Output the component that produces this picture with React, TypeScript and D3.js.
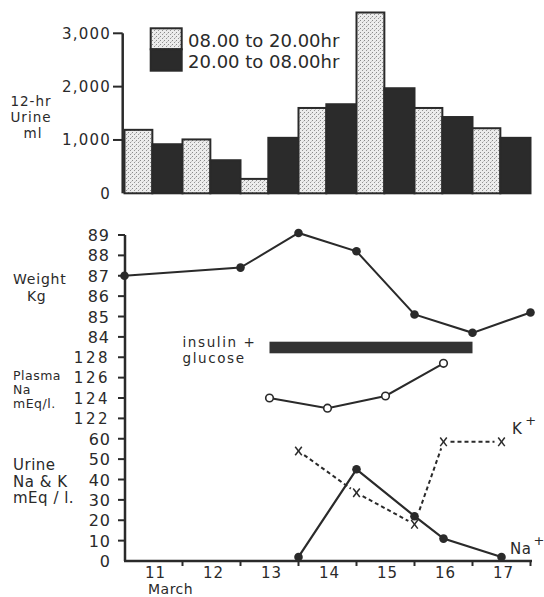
import React from "react";
import * as d3 from "d3";

// ---- Data ----
const days = ["11", "12", "13", "14", "15", "16", "17"];
const dayUrine = [1190, 1010, 270, 1600, 3390, 1600, 1220]; // 08.00 to 20.00 hr
const nightUrine = [920, 620, 1040, 1670, 1970, 1430, 1040]; // 20.00 to 08.00 hr
const urineVolTicks = [0, 1000, 2000, 3000];
const urineVolLabels = ["0", "1,000", "2,000", "3,000"];

const weightT = [0, 2, 3, 4, 5, 6, 7];
const weight = [87.0, 87.4, 89.1, 88.2, 85.1, 84.2, 85.2];
const weightTicks = [84, 85, 86, 87, 88, 89];

const plasmaT = [2.5, 3.5, 4.5, 5.5];
const plasmaNa = [124.0, 123.0, 124.2, 127.4];
const plasmaTicks = [122, 124, 126, 128];

const insulinSpan = [2.5, 6.0];

const urineT = [3, 4, 5, 5.5, 6.5];
const urineNa = [2, 45, 22, 11, 2];
const urineK = [54, 33.5, 18, 58.5, 58.5];
const urineTicks = [0, 10, 20, 30, 40, 50, 60];

const FONT = "'DejaVu Sans', sans-serif";
const INK = "#2a2a2a";

export default function App() {
  const x = d3.scaleLinear().domain([0, 7]).range([124.5, 530.5]);
  const yVol = d3.scaleLinear().domain([0, 3000]).range([193.3, 33.3]);
  const yW = d3.scaleLinear().domain([84, 89]).range([336.9, 235]);
  const yP = d3.scaleLinear().domain([122, 128]).range([418.4, 357.25]);
  const yU = d3.scaleLinear().domain([0, 60]).range([561, 438.75]);

  const split = 0.48;

  const wLine = d3.line<number>().x((_, i) => x(weightT[i])).y((d) => yW(d));
  const pLine = d3.line<number>().x((_, i) => x(plasmaT[i])).y((d) => yP(d));
  const naLine = d3.line<number>().x((_, i) => x(urineT[i])).y((d) => yU(d));

  // K dashed segments, shortened near markers
  const kSegs: { x1: number; y1: number; x2: number; y2: number }[] = [];
  for (let i = 0; i < urineK.length - 1; i++) {
    const ax = x(urineT[i]), ay = yU(urineK[i]);
    const bx = x(urineT[i + 1]), by = yU(urineK[i + 1]);
    const dx = bx - ax, dy = by - ay;
    const len = Math.hypot(dx, dy);
    const ux = dx / len, uy = dy / len;
    const s0 = i === 2 ? 15 : 7;
    const s1 = 7;
    kSegs.push({ x1: ax + ux * s0, y1: ay + uy * s0, x2: bx - ux * s1, y2: by - uy * s1 });
  }

  const tickFont = { fontFamily: FONT, fontSize: 16, fill: INK, letterSpacing: 1 } as const;
  const labelFont = { fontFamily: FONT, fontSize: 15, fill: INK, letterSpacing: 0.5 } as const;

  return (
    <svg
      width={544}
      height={597}
      style={{ position: "absolute", left: 0, top: 0, background: "#fff" }}
    >
      <defs>
        <pattern id="stip" width={4} height={4} patternUnits="userSpaceOnUse">
          <rect width={4} height={4} fill="#ececec" />
          <rect x={0} y={0} width={1} height={1} fill="#8a8a8a" />
          <rect x={2} y={2} width={1} height={1} fill="#949494" />
          <rect x={3} y={1} width={1} height={1} fill="#c8c8c8" />
        </pattern>
      </defs>

      {/* ---------- Top: 12-hr urine bars ---------- */}
      {days.map((d, i) => (
        <g key={"bar" + d}>
          <rect
            x={x(i)}
            y={yVol(dayUrine[i])}
            width={x(i + split) - x(i)}
            height={yVol(0) - yVol(dayUrine[i])}
            fill="url(#stip)"
            stroke={INK}
            strokeWidth={2}
          />
          <rect
            x={x(i + split)}
            y={yVol(nightUrine[i])}
            width={x(i + 1) - x(i + split)}
            height={yVol(0) - yVol(nightUrine[i])}
            fill="#2b2b2b"
            stroke={INK}
            strokeWidth={2}
          />
        </g>
      ))}
      <line x1={122.7} x2={122.7} y1={yVol(3000)} y2={yVol(0)} stroke={INK} strokeWidth={2.5} />
      {urineVolTicks.map((t, i) => (
        <g key={"vt" + t}>
          {t > 0 && (
            <line x1={113} x2={122.7} y1={yVol(t)} y2={yVol(t)} stroke={INK} strokeWidth={2} />
          )}
          <text
            x={111}
            y={yVol(t) + 5.5}
            textAnchor="end"
            {...tickFont}
            fontSize={15}
            letterSpacing={1.2}
          >
            {urineVolLabels[i]}
          </text>
        </g>
      ))}
      <text x={31} y={105.5} textAnchor="middle" {...labelFont} fontSize={13.5} letterSpacing={1}>12-hr</text>
      <text x={31} y={121.5} textAnchor="middle" {...labelFont} fontSize={13.5} letterSpacing={1}>Urine</text>
      <text x={33} y={137.5} textAnchor="middle" {...labelFont} fontSize={13.5} letterSpacing={1}>ml</text>

      {/* legend */}
      <rect x={150.7} y={28.3} width={31} height={21} fill="url(#stip)" stroke={INK} strokeWidth={2} />
      <rect x={150.7} y={49.3} width={31} height={21.4} fill="#2b2b2b" stroke={INK} strokeWidth={2} />
      <text x={188} y={46.5} fontFamily={FONT} fontSize={18} fill={INK}>08.00 to 20.00hr</text>
      <text x={188} y={68} fontFamily={FONT} fontSize={18} fill={INK}>20.00 to 08.00hr</text>

      {/* ---------- Bottom panel axes ---------- */}
      <line x1={125} x2={125} y1={yW(89)} y2={yU(0)} stroke={INK} strokeWidth={2.5} />
      <line x1={124} x2={532} y1={yU(0)} y2={yU(0)} stroke={INK} strokeWidth={2.5} />
      {weightTicks.map((t) => (
        <g key={"wt" + t}>
          <line x1={118} x2={125} y1={yW(t)} y2={yW(t)} stroke={INK} strokeWidth={2} />
          <text x={110} y={yW(t) + 6} textAnchor="end" {...tickFont}>{t}</text>
        </g>
      ))}
      {plasmaTicks.map((t) => (
        <g key={"pt" + t}>
          <line x1={118} x2={125} y1={yP(t)} y2={yP(t)} stroke={INK} strokeWidth={2} />
          <text x={110} y={yP(t) + 5.5} textAnchor="end" {...tickFont} fontSize={15} letterSpacing={2.5}>{t}</text>
        </g>
      ))}
      {urineTicks.map((t) => (
        <g key={"ut" + t}>
          {t > 0 && <line x1={118} x2={125} y1={yU(t)} y2={yU(t)} stroke={INK} strokeWidth={2} />}
          <text x={111} y={yU(t) + 6} textAnchor="end" {...tickFont}>{t}</text>
        </g>
      ))}
      {days.map((d, i) => (
        <g key={"xd" + d}>
          <line x1={x(i + 1)} x2={x(i + 1)} y1={yU(0)} y2={yU(0) + 5} stroke={INK} strokeWidth={2} />
          <text x={x(i + 0.5) + 2} y={577.5} textAnchor="middle" {...tickFont} fontSize={15}>{d}</text>
        </g>
      ))}
      <text x={148} y={594} {...labelFont} fontSize={14}>March</text>

      {/* left labels */}
      <text x={13} y={284} {...labelFont} fontSize={14} letterSpacing={0.8}>Weight</text>
      <text x={27} y={300.5} {...labelFont} fontSize={14}>Kg</text>
      <text x={13} y={379.5} {...labelFont} fontSize={12.5}>Plasma</text>
      <text x={13} y={393.5} {...labelFont} fontSize={12.5}>Na</text>
      <text x={13} y={407.5} {...labelFont} fontSize={12.5}>mEq/l.</text>
      <text x={13} y={470} {...labelFont}>Urine</text>
      <text x={13} y={486.5} {...labelFont}>Na &amp; K</text>
      <text x={13} y={503} {...labelFont}>mEq / l.</text>

      {/* weight */}
      <path d={wLine(weight) || ""} fill="none" stroke={INK} strokeWidth={2} />
      {weight.map((w, i) => (
        <circle key={"w" + i} cx={x(weightT[i])} cy={yW(w)} r={4.3} fill={INK} />
      ))}

      {/* insulin + glucose */}
      <rect
        x={x(insulinSpan[0])}
        y={341.7}
        width={x(insulinSpan[1]) - x(insulinSpan[0])}
        height={11.6}
        fill="#333"
      />
      <text x={182.5} y={346.5} {...labelFont} fontSize={13.5} letterSpacing={1.6}>insulin +</text>
      <text x={182.5} y={363} {...labelFont} fontSize={13.5} letterSpacing={1.6}>glucose</text>

      {/* plasma Na */}
      <path d={pLine(plasmaNa) || ""} fill="none" stroke={INK} strokeWidth={2} />
      {plasmaNa.map((p, i) => (
        <circle key={"p" + i} cx={x(plasmaT[i])} cy={yP(p)} r={3.8} fill="#fff" stroke={INK} strokeWidth={1.6} />
      ))}

      {/* urine K (dashed) */}
      {kSegs.map((s, i) => (
        <line
          key={"ks" + i}
          x1={s.x1}
          y1={s.y1}
          x2={s.x2}
          y2={s.y2}
          stroke={INK}
          strokeWidth={2}
          strokeDasharray="4,3"
        />
      ))}
      {urineK.map((k, i) => {
        const cx = x(urineT[i]);
        const cy = yU(k);
        return (
          <g key={"k" + i} stroke={INK} strokeWidth={1.5}>
            <line x1={cx - 3.3} y1={cy - 4.3} x2={cx + 3.3} y2={cy + 4.3} />
            <line x1={cx + 3.3} y1={cy - 4.3} x2={cx - 3.3} y2={cy + 4.3} />
          </g>
        );
      })}

      {/* urine Na */}
      <path d={naLine(urineNa) || ""} fill="none" stroke={INK} strokeWidth={2.2} />
      {urineNa.map((n, i) => (
        <circle key={"n" + i} cx={x(urineT[i])} cy={yU(n)} r={4.3} fill={INK} />
      ))}

      <text x={512} y={434} {...labelFont}>
        K<tspan dx={3} dy={-9} fontSize={13}>+</tspan>
      </text>
      <text x={510} y={553.5} {...labelFont}>
        Na<tspan dx={2} dy={-9} fontSize={13}>+</tspan>
      </text>
    </svg>
  );
}
